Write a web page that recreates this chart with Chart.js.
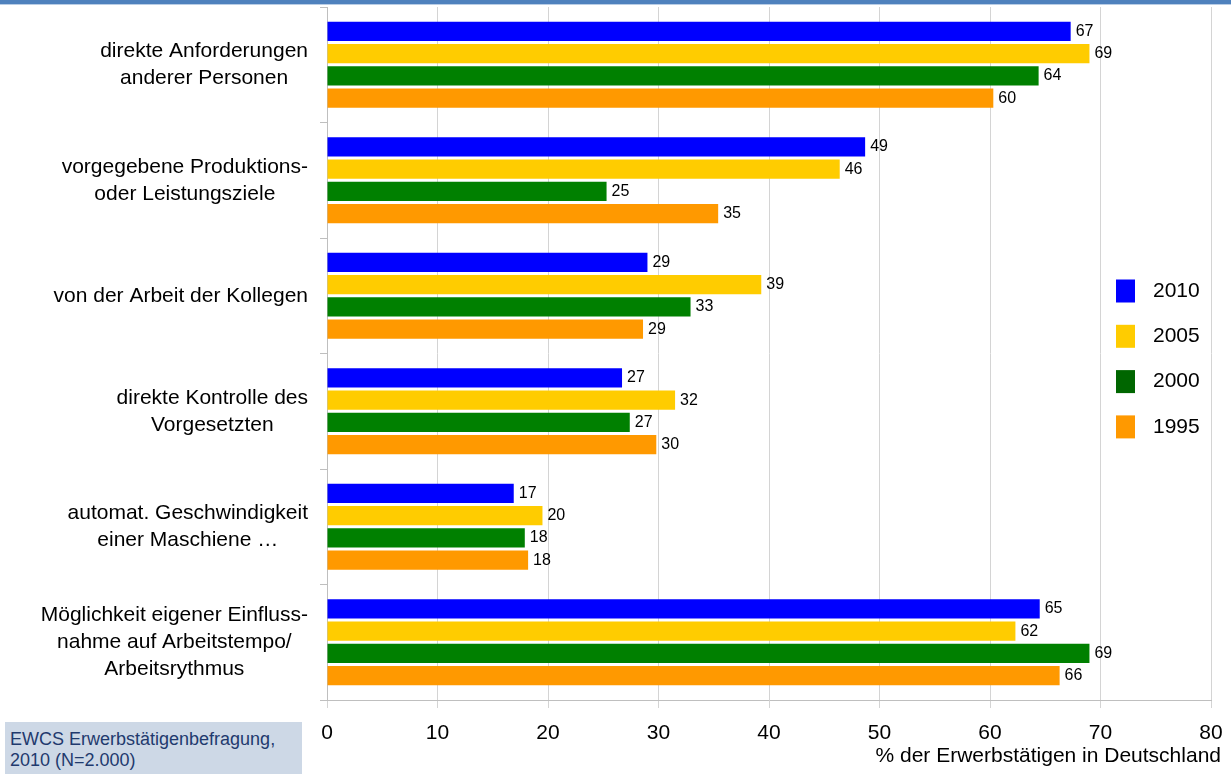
<!DOCTYPE html>
<html>
<head>
<meta charset="utf-8">
<script src="https://cdn.jsdelivr.net/npm/chart.js@4/dist/chart.umd.min.js"></script>
<style>
  html, body { margin: 0; padding: 0; background: #fff; }
  #wrap { position: relative; width: 1231px; height: 774px; overflow: hidden; }
  #c { position: absolute; left: 0; top: 0; }
  #band { position: absolute; left: 0; top: 0; width: 1231px; height: 4px; background: #4F81BD; border-bottom: 1px solid #B9CDE5; }
  #src { position: absolute; left: 5px; top: 722px; width: 297px; height: 52px; background: #CDD8E6;
         font-family: "Liberation Sans", Arial, sans-serif; font-size: 18px; line-height: 21px; color: #1F3A6E;
         box-sizing: border-box; padding: 7px 0 0 5px; }
</style>
</head>
<body>
<div id="wrap">
  <canvas id="c" width="1231" height="774"></canvas>
  <div id="band"></div>
  <div id="src">EWCS Erwerbstätigenbefragung,<br>2010 (N=2.000)</div>
</div>
<script>
const categories = [
  ["direkte Anforderungen", "anderer Personen"],
  ["vorgegebene Produktions-", "oder Leistungsziele"],
  ["von der Arbeit der Kollegen"],
  ["direkte Kontrolle des", "Vorgesetzten"],
  ["automat. Geschwindigkeit", "einer Maschiene \u2026"],
  ["M\u00f6glichkeit eigener Einfluss-", "nahme auf Arbeitstempo/", "Arbeitsrythmus"]
];
const seriesNames = ["2010", "2005", "2000", "1995"];
const values2010 = [67.3, 48.7, 29.0, 26.7, 16.9, 64.5];
const values2005 = [69.0, 46.4, 39.3, 31.5, 19.5, 62.3];
const values2000 = [64.4, 25.3, 32.9, 27.4, 17.9, 69.0];
const values1995 = [60.3, 35.4, 28.6, 29.8, 18.2, 66.3];
const xTicks = [0, 10, 20, 30, 40, 50, 60, 70, 80];
const axisTitle = "% der Erwerbst\u00e4tigen in Deutschland";

const barColors = ["#0000FF", "#FFCC00", "#008000", "#FF9900"];
const legendColors = ["#0000FF", "#FFCC00", "#006600", "#FF9900"];
const FONT = '"Liberation Sans", Arial, sans-serif';
Chart.defaults.font.family = FONT;
Chart.defaults.color = "#000";

const allValues = [values2010, values2005, values2000, values1995];

const labelPlugin = {
  id: "customText",
  afterDatasetsDraw(chart) {
    const ctx = chart.ctx;
    const ys = chart.scales.y;
    ctx.save();
    // category labels: block right-aligned, lines centered
    ctx.font = "21px " + FONT;
    ctx.fillStyle = "#000";
    ctx.textAlign = "center";
    ctx.textBaseline = "middle";
    const lh = 27;
    categories.forEach((lines, i) => {
      const cy = ys.getPixelForValue(i);
      const maxW = Math.max(...lines.map(l => ctx.measureText(l).width));
      const cx = 308 - maxW / 2;
      lines.forEach((l, j) => {
        ctx.fillText(l, cx, cy + (j - (lines.length - 1) / 2) * lh);
      });
    });
    // axis title
    ctx.textAlign = "right";
    ctx.fillText(axisTitle, 1221, 756);
    // data labels
    ctx.font = "16px " + FONT;
    ctx.textAlign = "left";
    chart.data.datasets.forEach((ds, di) => {
      const meta = chart.getDatasetMeta(di);
      meta.data.forEach((el, k) => {
        ctx.fillText(String(Math.round(ds.data[k])), el.x + 5, el.y);
      });
    });
    // legend
    ctx.font = "21px " + FONT;
    chart.data.datasets.forEach((ds, di) => {
      const cy = 291 + di * 45.3;
      ctx.fillStyle = legendColors[di];
      ctx.fillRect(1116, cy - 11.5, 19, 23);
      ctx.fillStyle = "#000";
      ctx.fillText(ds.label, 1153, cy);
    });
    ctx.restore();
  }
};

new Chart(document.getElementById("c"), {
  type: "bar",
  data: {
    labels: categories.map(c => c.join(" ")),
    datasets: seriesNames.map((n, i) => ({
      label: n,
      data: allValues[i],
      backgroundColor: barColors[i],
      borderWidth: 0,
      categoryPercentage: 0.77,
      barPercentage: 0.86
    }))
  },
  options: {
    indexAxis: "y",
    responsive: false,
    animation: false,
    layout: { padding: { top: 7, right: 20, left: 0, bottom: 0 } },
    plugins: { legend: { display: false }, tooltip: { enabled: false } },
    scales: {
      x: {
        min: 0, max: 80,
        afterBuildTicks(s) { s.ticks = xTicks.map(v => ({ value: v })); },
        ticks: { font: { size: 21 }, color: "#000", padding: 13, maxRotation: 0 },
        grid: { color: "#D4D4D4", tickLength: 8, lineWidth: 1 },
        border: { color: "#BFBFBF" },
        afterFit(s) { s.height = 74; s.paddingLeft = 0; s.paddingRight = 0; }
      },
      y: {
        type: "category",
        ticks: { display: false },
        grid: { offset: true, drawOnChartArea: false, tickLength: 7, color: "#BFBFBF" },
        border: { color: "#BFBFBF" },
        afterFit(s) { s.width = 327; }
      }
    }
  },
  plugins: [labelPlugin]
});
</script>
</body>
</html>
